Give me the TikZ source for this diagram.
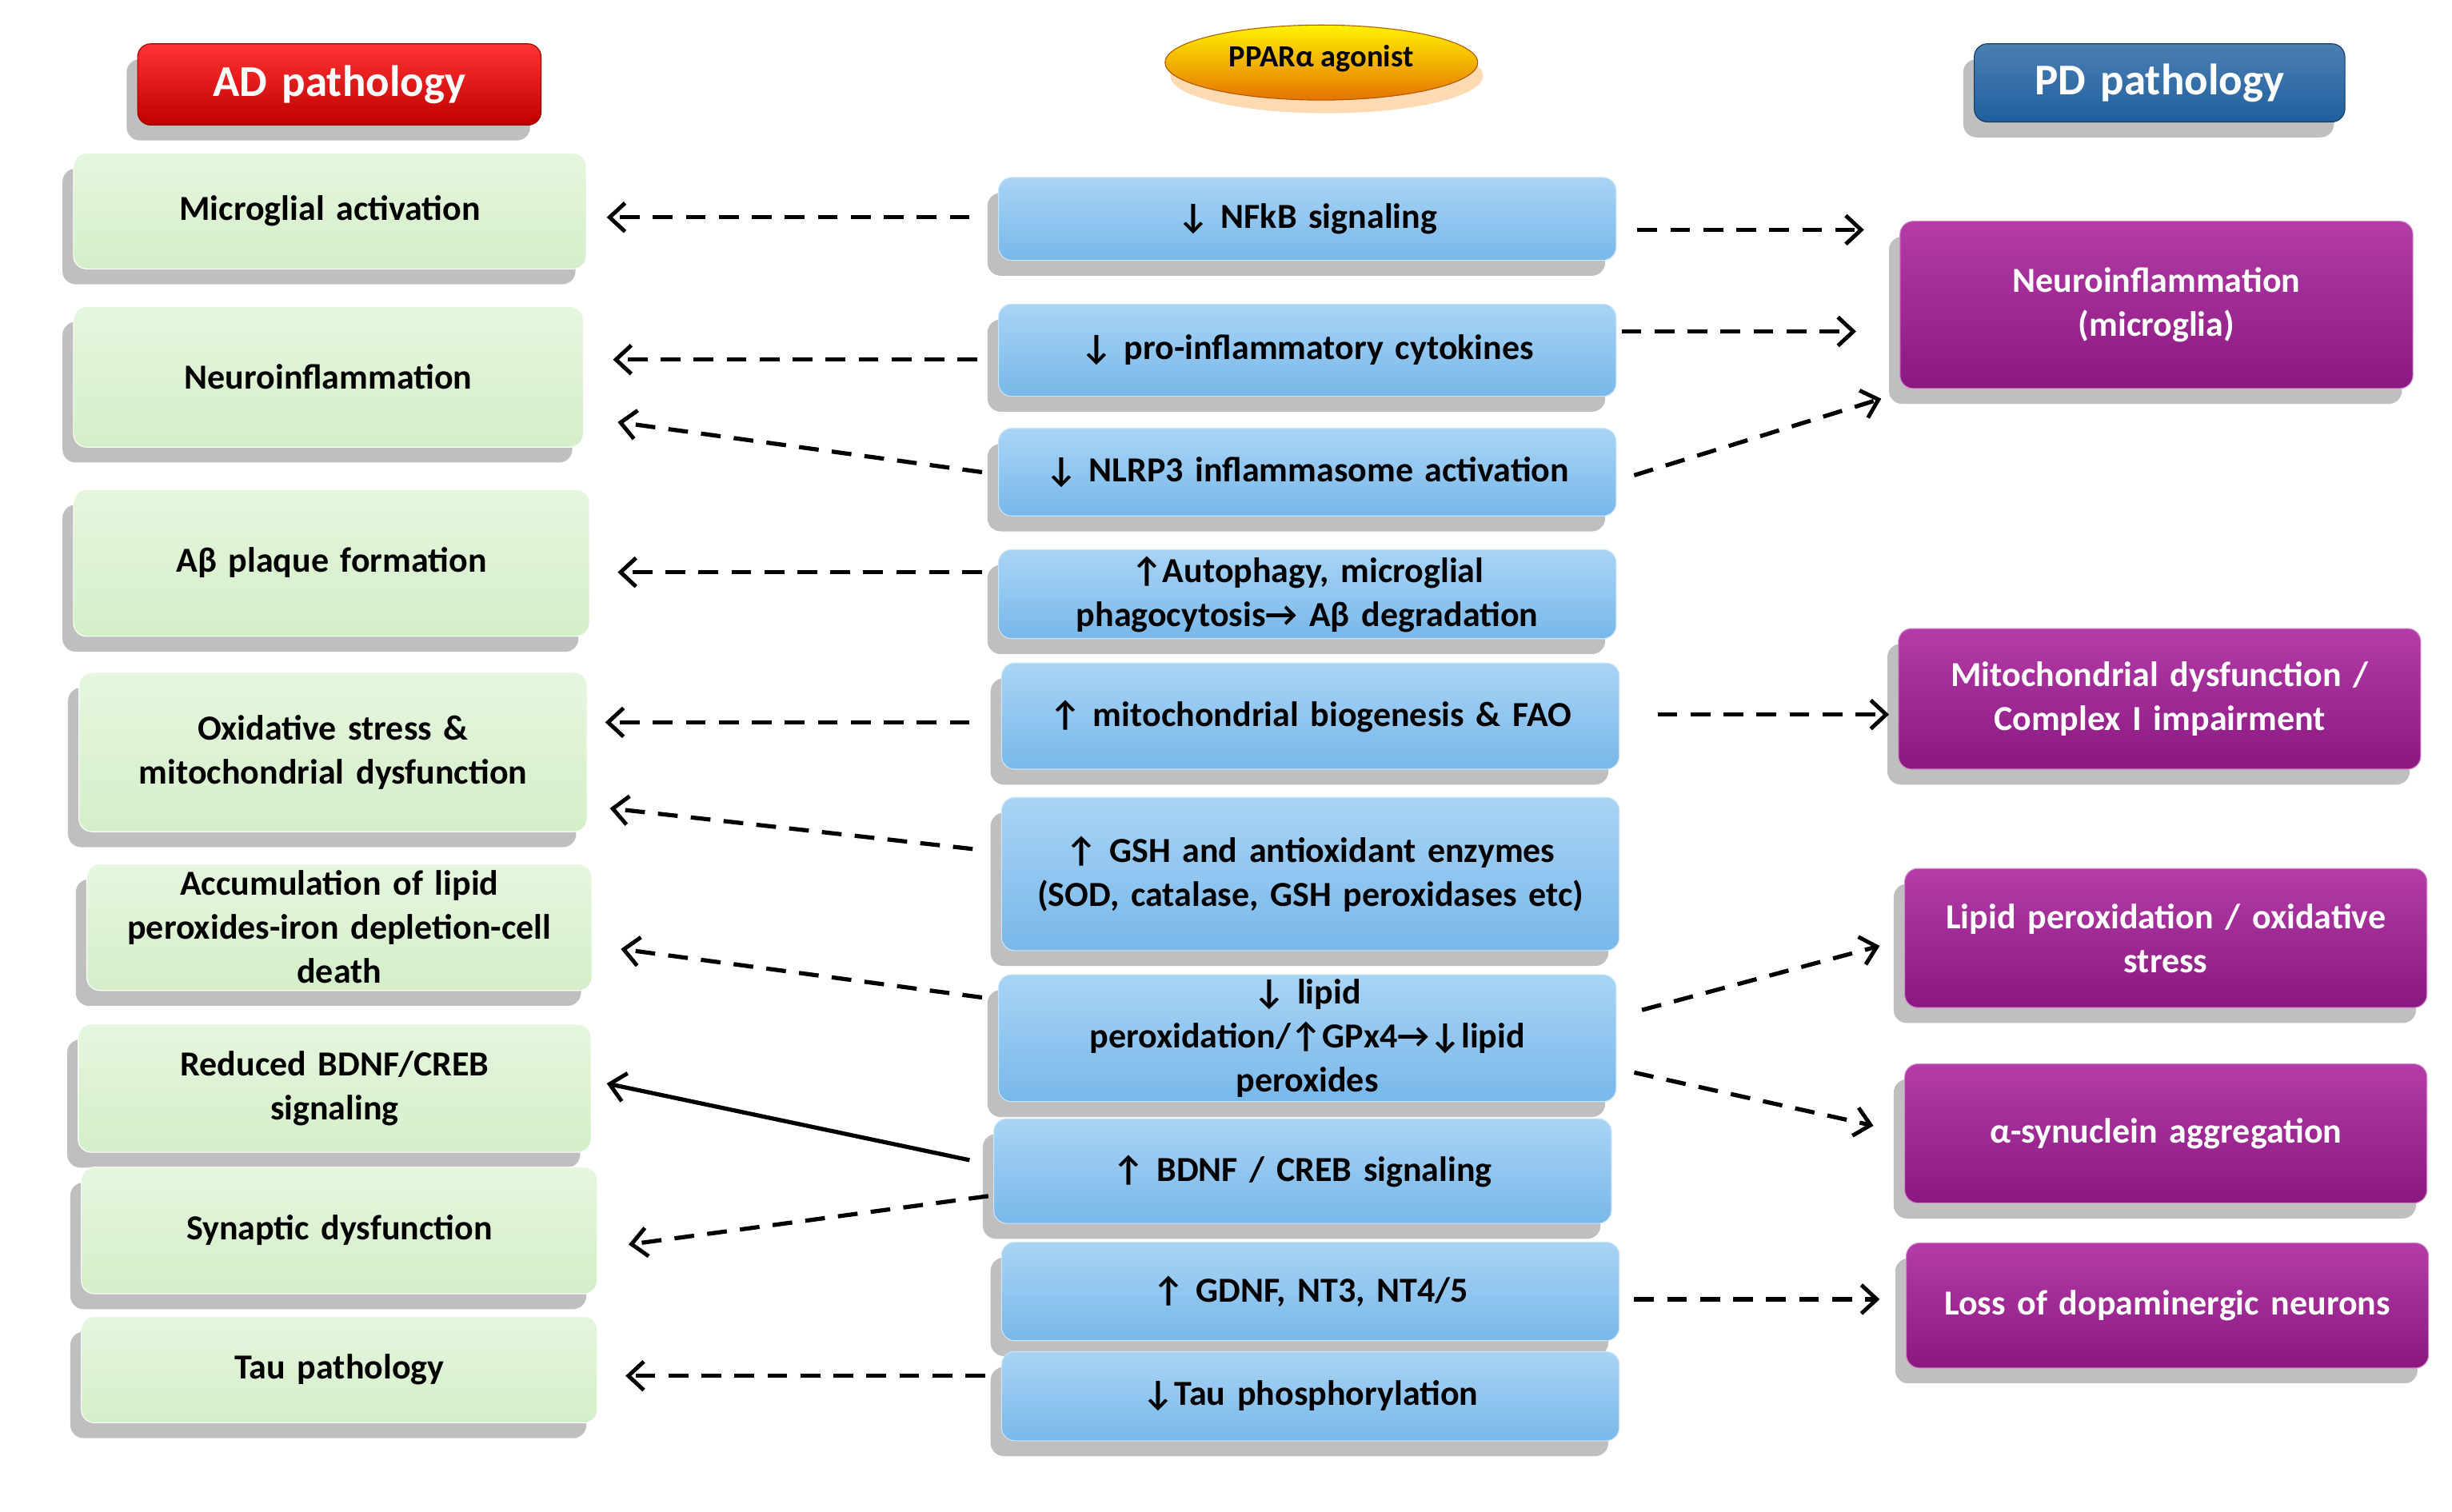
\documentclass[tikz,border=0pt]{standalone}
\usepackage{fontspec}
\setmainfont{Carlito}
\usetikzlibrary{arrows.meta,shadows,calc,shapes.geometric}
\definecolor{pdA}{HTML}{B43CA8}
\definecolor{pdB}{HTML}{8A1880}
\definecolor{blA}{HTML}{A9D4F5}
\definecolor{blB}{HTML}{78B8EA}
\definecolor{grA}{HTML}{E6F6DF}
\definecolor{grB}{HTML}{D3EFC8}
\definecolor{ttl}{HTML}{1F5F9E}
\begin{document}
\begin{tikzpicture}[x=0.025cm,y=-0.025cm,
 base/.style={rounded corners=6pt,font=\fontsize{16}{20}\selectfont\bfseries,align=center,inner sep=2pt,
   drop shadow={shadow xshift=-5pt,shadow yshift=-7pt,opacity=.25,fill=black}},
 ad/.style={base,top color=grA,bottom color=grB,draw=white,text=black},
 mid/.style={base,top color=blA,bottom color=blB,draw=blA!60!white,text=black},
 pd/.style={base,top color=pdA,bottom color=pdB,draw=pdA!60!white,text=white},
 arr/.style={line width=1.9pt,dash pattern=on 9pt off 6pt,-{Straight Barb[length=7pt,width=13pt,line width=1.8pt]}},
 sarr/.style={line width=1.9pt,-{Straight Barb[length=7pt,width=13pt,line width=1.8pt]}}]
\useasboundingbox (0,0) rectangle (1568,967);
\newcommand\bx[6]{\node[#1,minimum width=#4*0.025cm,minimum height=#5*0.025cm,text width=#4*0.025cm-10pt] (#2) at (#3) {#6};}
% titles
\bx{base,top color=red!80!white,bottom color=red!75!black,draw=red!60!black,text=white,font=\fontsize{20}{24}\selectfont\bfseries}{tad}{217,54}{258}{52}{AD pathology}
\bx{base,top color=ttl!80!white,bottom color=ttl,draw=ttl!60!black,text=white,font=\fontsize{20}{24}\selectfont\bfseries}{tpd}{1381,53}{237}{50}{PD pathology}
\node[ellipse,inner sep=0pt,minimum width=200*0.025cm,minimum height=48*0.025cm,top color=yellow!90!orange,bottom color=orange!90!black,draw=orange!70!black,font=\fontsize{14}{17}\selectfont\bfseries,drop shadow={shadow yshift=-6pt,opacity=.3,fill=orange}] (pp) at (845,40) {\raisebox{6pt}{PPARα agonist}};
% left
\bx{ad}{a1}{211,135}{328}{74}{Microglial activation}
\bx{ad}{a2}{210,241}{326}{90}{Neuroinflammation}
\bx{ad}{a3}{212,360}{330}{94}{Aβ plaque formation}
\bx{ad}{a4}{213,481}{325}{102}{Oxidative stress \&\\ mitochondrial dysfunction}
\bx{ad}{a5}{217,593}{323}{81}{Accumulation of lipid\\ peroxides-iron depletion-cell\\ death}
\bx{ad}{a6}{214,696}{328}{82}{Reduced BDNF/CREB\\ signaling}
\bx{ad}{a7}{217,787}{330}{81}{Synaptic dysfunction}
\bx{ad}{a8}{217,876}{330}{68}{Tau pathology}
% middle
\bx{mid}{m1}{836,140}{395}{53}{↓ NFkB signaling}
\bx{mid}{m2}{836,224}{395}{59}{↓ pro-inflammatory cytokines}
\bx{mid}{m3}{836,302}{395}{56}{↓ NLRP3 inflammasome activation}
\bx{mid}{m4}{836,380}{395}{57}{↑Autophagy, microglial\\ phagocytosis→ Aβ degradation}
\bx{mid}{m5}{838,458}{395}{68}{↑ mitochondrial biogenesis \& FAO}
\bx{mid}{m6}{838,559}{395}{98}{↑ GSH and antioxidant enzymes\\ (SOD, catalase, GSH peroxidases etc)}
\bx{mid}{m7}{836,664}{395}{81}{↓ lipid\\ peroxidation/↑GPx4→↓lipid\\ peroxides}
\bx{mid}{m8}{833,749}{395}{67}{↑ BDNF / CREB signaling}
\bx{mid}{m9}{838,826}{395}{63}{↑ GDNF, NT3, NT4/5}
\bx{mid}{m10}{838,893}{395}{57}{↓Tau phosphorylation}
% right
\bx{pd}{p1}{1379,195}{328}{107}{Neuroinflammation\\ (microglia)}
\bx{pd}{p2}{1381,447}{334}{90}{Mitochondrial dysfunction /\\ Complex I impairment}
\bx{pd}{p3}{1385,600}{334}{89}{Lipid peroxidation / oxidative\\ stress}
\bx{pd}{p4}{1385,725}{334}{89}{α-synuclein aggregation}
\bx{pd}{p5}{1386,835}{334}{80}{Loss of dopaminergic neurons}
% endpoints
\foreach \n/\x/\y in {L1a/620/139,L1b/388/139,L2a/625/230,L2b/392/230,L3a/628/302,L3b/395/270,L4a/628/366,L4b/395/366,
 L5a/620/462,L5b/387/462,L6a/622/543,L6b/390/517,L7a/628/638,L7b/397/607,L8a/620/742,L8b/388/693,L9a/632/765,L9b/402/796,
 L10a/630/880,L10b/400/880,R1a/1047/147,R1b/1192/147,R2a/1037/212,R2b/1187/212,R3a/1045/304,R3b/1203/255,R5a/1060/457,R5b/1208/457,
 R7a/1050/646,R7b/1202/605,R8a/1045/686,R8b/1198/720,R9a/1045/831,R9b/1202/831}
 \coordinate (\n) at (\x,\y);
\foreach \s/\t in {L1a/L1b,L2a/L2b,L3a/L3b,L4a/L4b,L5a/L5b,L6a/L6b,L7a/L7b,L9a/L9b,L10a/L10b,R1a/R1b,R2a/R2b,R3a/R3b,R5a/R5b,R7a/R7b,R8a/R8b,R9a/R9b}
 \draw[arr] (\s) -- (\t);
\draw[sarr] (L8a) -- (L8b);
\end{tikzpicture}
\end{document}
